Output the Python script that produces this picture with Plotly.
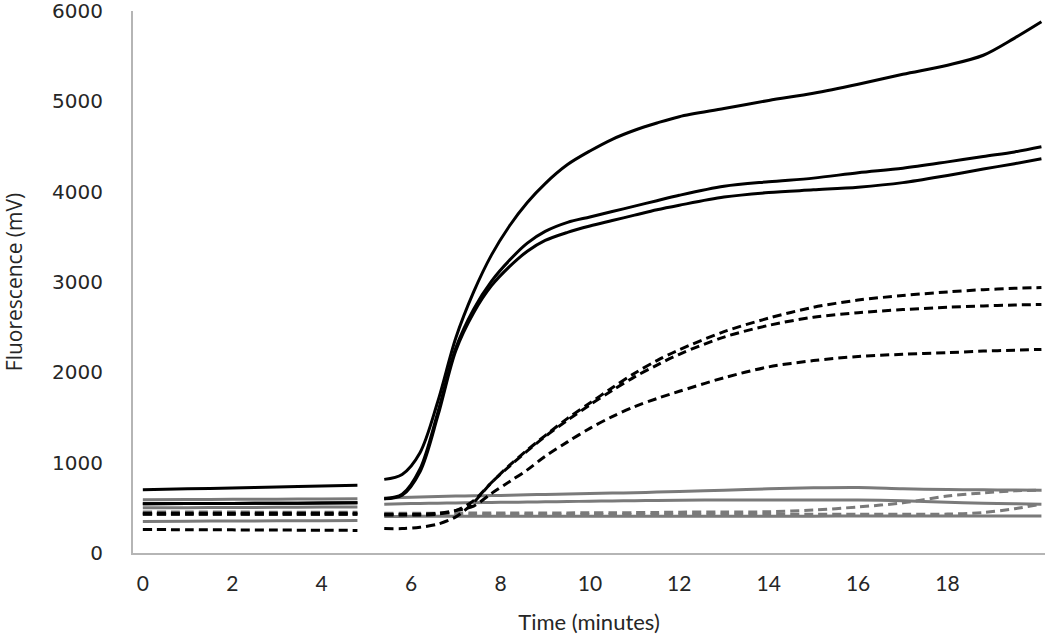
import plotly.graph_objects as go

# Time points (minutes); 5.1 marks the gap in the recording
time_min = [0, 1, 2, 3, 4, 4.8, 5.1, 5.4, 5.8, 6.2, 6.6, 7.0, 7.4, 7.8, 8.2, 8.6, 9.0,
            9.5, 10, 10.5, 11, 11.5, 12, 13, 14, 15, 16, 17, 18, 18.8, 19.5, 20.1]

# Gray solid series
gray_solid_1 = [590, 592, 594, 596, 598, 600, None, 610, 615, 620, 625, 630, 633, 636, 640, 644, 648,
                652, 658, 663, 668, 674, 680, 695, 710, 722, 726, 712, 702, 699, 697, 696]
gray_solid_2 = [500, 502, 504, 506, 508, 510, None, 540, 545, 548, 551, 554, 557, 560, 562, 564, 567,
                570, 573, 576, 579, 582, 585, 586, 586, 586, 586, 578, 562, 552, 546, 541]
gray_solid_3 = [350, 352, 354, 356, 358, 360, None, 405, 405, 406, 406, 406, 406, 406, 407, 407, 407,
                407, 407, 408, 408, 408, 408, 408, 408, 408, 409, 409, 409, 409, 409, 409]
# Gray dashed series
gray_dash_1 = [455, 454, 453, 452, 451, 450, None, 440, 440, 440, 441, 441, 442, 442, 443, 443, 444,
               444, 445, 446, 447, 449, 452, 454, 457, 475, 510, 555, 630, 665, 688, 696]
gray_dash_2 = [430, 429, 428, 427, 426, 425, None, 420, 420, 421, 421, 422, 422, 423, 423, 424, 424,
               425, 425, 426, 426, 427, 427, 428, 429, 429, 430, 430, 431, 448, 490, 541]

# Black solid series
black_solid_1 = [700, 710, 720, 730, 742, 750, None, 815, 870, 1110, 1680, 2380, 2890, 3300, 3620, 3880, 4090,
                 4300, 4450, 4580, 4680, 4760, 4830, 4920, 5010, 5090, 5190, 5300, 5400, 5510, 5700, 5880]
black_solid_2 = [545, 547, 549, 551, 553, 555, None, 600, 650, 930, 1560, 2270, 2700, 3010, 3240, 3430, 3560,
                 3660, 3720, 3780, 3840, 3900, 3960, 4060, 4110, 4150, 4210, 4260, 4330, 4390, 4440, 4497]
black_solid_3 = [545, 547, 549, 551, 553, 555, None, 600, 640, 900, 1520, 2240, 2660, 2960, 3170, 3340, 3460,
                 3550, 3620, 3680, 3740, 3800, 3850, 3940, 3990, 4020, 4050, 4100, 4180, 4250, 4310, 4365]
# Black dashed series
black_dash_1 = [430, 430, 430, 430, 430, 430, None, 420, 420, 420, 430, 470, 580, 780, 970, 1140, 1300,
                1490, 1660, 1830, 1990, 2130, 2250, 2450, 2600, 2720, 2800, 2850, 2890, 2915, 2930, 2939]
black_dash_2 = [260, 258, 256, 254, 252, 250, None, 270, 270, 285, 320, 400, 560, 780, 960, 1130, 1290,
                1470, 1640, 1800, 1950, 2080, 2200, 2390, 2520, 2610, 2660, 2695, 2720, 2735, 2745, 2751]
black_dash_3 = [440, 440, 440, 440, 440, 440, None, 430, 430, 430, 440, 470, 520, 660, 790, 920, 1070,
                1230, 1380, 1510, 1620, 1710, 1790, 1940, 2060, 2130, 2175, 2200, 2218, 2235, 2245, 2254]

x_ticks = [0, 2, 4, 6, 8, 10, 12, 14, 16, 18]
y_ticks = [0, 1000, 2000, 3000, 4000, 5000, 6000]

GRAY = "#7a7a7a"
BLACK = "#000000"
DASH = "9px,5px"

series = [
    (gray_solid_1, GRAY, "solid"),
    (gray_solid_2, GRAY, "solid"),
    (gray_solid_3, GRAY, "solid"),
    (gray_dash_1, GRAY, DASH),
    (gray_dash_2, GRAY, DASH),
    (black_dash_1, BLACK, DASH),
    (black_dash_2, BLACK, DASH),
    (black_dash_3, BLACK, DASH),
    (black_solid_1, BLACK, "solid"),
    (black_solid_2, BLACK, "solid"),
    (black_solid_3, BLACK, "solid"),
]

fig = go.Figure()
for ys, col, dash in series:
    fig.add_trace(go.Scatter(
        x=time_min, y=ys, mode="lines",
        line=dict(color=col, width=3, dash=dash, shape="spline", smoothing=0.9),
        connectgaps=False, showlegend=False, hoverinfo="skip",
    ))

XFONT = "Lato, Liberation Sans Narrow, sans-serif"
fig.update_layout(
    width=1050, height=636,
    margin=dict(l=133, r=5, t=11, b=83),
    paper_bgcolor="white", plot_bgcolor="white",
    showlegend=False,
)
fig.update_xaxes(
    range=[-0.22, 20.18], tickvals=x_ticks, ticktext=[str(v) for v in x_ticks],
    showgrid=False, zeroline=False, showline=True, linecolor="#b5b5b5", linewidth=2,
    ticks="", ticklabelstandoff=11, automargin=False, ticklabeloverflow="allow",
    tickfont=dict(family=XFONT, size=21, color="#262626"),
    title=dict(text="Time (minutes)", standoff=20,
               font=dict(family=XFONT, size=22, color="#262626")),
)
fig.update_yaxes(
    range=[0, 6000], tickvals=y_ticks, ticktext=[str(v) for v in y_ticks],
    showgrid=False, zeroline=False, showline=True, linecolor="#b5b5b5", linewidth=2,
    ticks="", ticklabelstandoff=24, automargin=False, ticklabeloverflow="allow",
    tickfont=dict(family="DejaVu Sans, sans-serif", size=20, color="#262626"),
    title=dict(text="Fluorescence (mV)", standoff=28,
               font=dict(family="Open Sans, sans-serif", size=21, color="#262626")),
)

fig.write_html("out.html", config={"displayModeBar": False},
               post_script="document.body.style.margin='0';document.body.style.padding='0';")
